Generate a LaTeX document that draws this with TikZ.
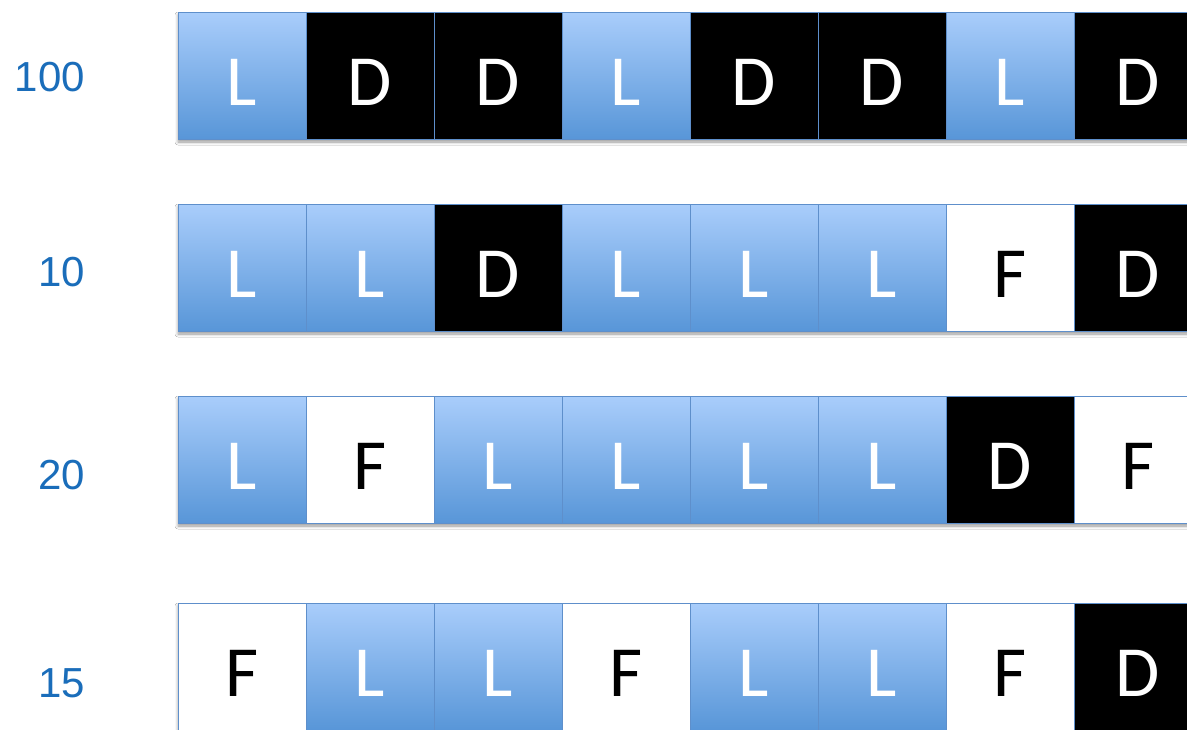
\documentclass[tikz,border=0pt]{standalone}
\usepackage{fontspec}
\setmainfont{Carlito}
\newfontfamily\numfont{Liberation Sans}
\usetikzlibrary{positioning, shadows.blur}
\definecolor{slotblue}{HTML}{5896D8}
\definecolor{slottop}{HTML}{A9CDFB}
\definecolor{slotline}{HTML}{5E8FCB}
\definecolor{rowblue}{HTML}{1A6DBA}

\tikzset{
  slot/.style={minimum width=128pt, minimum height=127pt, inner sep=0pt, outer sep=0pt,
               draw=slotline, line width=1pt, text height=59pt, text depth=0pt,
               font=\fontsize{72}{72}\selectfont},
  slotL/.style={slot, top color=slottop, bottom color=slotblue, text=white},
  slotD/.style={slot, fill=black, text=white},
  slotF/.style={slot, fill=white, text=black},
  rowshadow/.style={blur shadow={shadow xshift=0pt, shadow yshift=-3pt,
                    shadow blur radius=3pt, shadow opacity=40}},
  rowlabel/.style={anchor=east, text=rowblue, inner sep=0pt,
                   font=\numfont\fontsize{42}{42}\selectfont}
}

\begin{document}
\begin{tikzpicture}[x=1pt, y=-1pt]
  \clip (0,0) rectangle (1187,729);
  \fill[white] (0,0) rectangle (1187,729);
  % one strip of subframes per row, labelled with its period on the left
  \foreach \r/\top/\lab/\ly/\seq in {1/12/100/77/{L,D,D,L,D,D,L,D},
                                     2/204/10/272/{L,L,D,L,L,L,F,D},
                                     3/396/20/475/{L,F,L,L,L,L,D,F},
                                     4/603/15/683/{F,L,L,F,L,L,F,D}} {
    \node[rowlabel] (lab\r) at (85,\ly) {\lab};
    \path[rowshadow, fill=white] (178,\top) rectangle (1202,{\top+127});
    \foreach \c [count=\i] in \seq {
      \node[slot\c] (s\r-\i) at ({178+128*(\i-1)+64},{\top+63.5}) {\c};
    }
  }
\end{tikzpicture}
\end{document}
